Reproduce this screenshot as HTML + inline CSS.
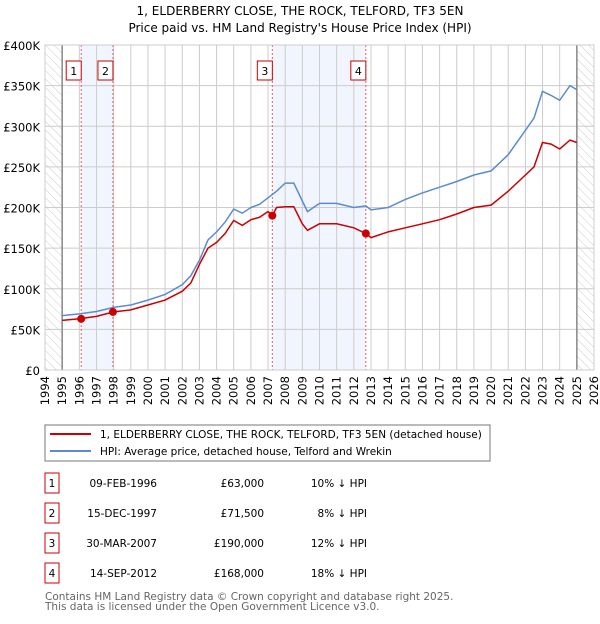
<!DOCTYPE html>
<html><head><meta charset="utf-8"><style>
body{margin:0;background:#fff;font-family:"DejaVu Sans","Liberation Sans",sans-serif;}
svg text{font-family:"DejaVu Sans","Liberation Sans",sans-serif;}
</style></head><body>
<svg id="c" width="600" height="620" xmlns="http://www.w3.org/2000/svg">
<defs><pattern id="hatch" width="6" height="6" patternUnits="userSpaceOnUse" patternTransform="rotate(-45)"><line x1="0" y1="0" x2="0" y2="6" stroke="#ccc" stroke-width="1"/></pattern></defs>
<text x="300" y="15" text-anchor="middle" font-size="12">1, ELDERBERRY CLOSE, THE ROCK, TELFORD, TF3 5EN</text>
<text x="300" y="32" text-anchor="middle" font-size="12">Price paid vs. HM Land Registry's House Price Index (HPI)</text>
<g id="plot"></g>
<rect x="45" y="425" width="445" height="36" fill="#fff" stroke="#777"/>
<line x1="50" y1="434" x2="91" y2="434" stroke="#cc0000" stroke-width="2"/>
<text x="100" y="438" font-size="10.5">1, ELDERBERRY CLOSE, THE ROCK, TELFORD, TF3 5EN (detached house)</text>
<line x1="50" y1="451" x2="91" y2="451" stroke="#5b8bd0" stroke-width="2"/>
<text x="100" y="455" font-size="10.5">HPI: Average price, detached house, Telford and Wrekin</text>
<g id="table" font-size="10.5"></g>
<text x="45" y="600" font-size="10.5" fill="#666">Contains HM Land Registry data © Crown copyright and database right 2025.</text>
<text x="45" y="610" font-size="10.5" fill="#666">This data is licensed under the Open Government Licence v3.0.</text>
</svg>
<script>
const hpiYears=[1995,1996,1997,1998,1999,2000,2001,2002,2002.5,2003,2003.5,2004,2004.5,2005,2005.5,2006,2006.5,2007,2007.5,2008,2008.5,2009,2009.3,2010,2011,2012,2012.7,2013,2014,2015,2016,2017,2018,2019,2020,2021,2022,2022.5,2023,2023.5,2024,2024.6,2025];
const hpiValues=[67,69,72,77,80,86,93,105,116,135,160,170,182,198,193,200,204,212,220,230,230,208,195,205,205,200,202,197,200,210,218,225,232,240,245,265,295,310,343,338,332,350,345];
const redYears=[1995,1996,1997,1998,1999,2000,2001,2002,2002.5,2003,2003.5,2004,2004.5,2005,2005.5,2006,2006.5,2007,2007.25,2007.5,2008,2008.5,2009,2009.3,2010,2011,2012,2012.7,2013,2014,2015,2016,2017,2018,2019,2020,2021,2022,2022.5,2023,2023.5,2024,2024.6,2025];
const redValues=[61,63,66,71.5,74,80,86,97,107,130,150,157,168,184,178,185,188,195,190,200,201,201,180,172,180,180,175,168,163,170,175,180,185,192,200,203,220,240,250,280,278,272,283,280];
const saleDates=[1996.11,1997.96,2007.25,2012.7];
const salePrices=[63,71.5,190,168];
const saleLabels=["1","2","3","4"];
const saleDateText=["09-FEB-1996","15-DEC-1997","30-MAR-2007","14-SEP-2012"];
const salePriceText=["£63,000","£71,500","£190,000","£168,000"];
const salePctText=["10% ↓ HPI","8% ↓ HPI","12% ↓ HPI","18% ↓ HPI"];
const yTicks=[0,50,100,150,200,250,300,350,400];
const yTickLabels=["£0","£50K","£100K","£150K","£200K","£250K","£300K","£350K","£400K"];
const xTicks=[1994,1995,1996,1997,1998,1999,2000,2001,2002,2003,2004,2005,2006,2007,2008,2009,2010,2011,2012,2013,2014,2015,2016,2017,2018,2019,2020,2021,2022,2023,2024,2025,2026];

const X0=45,X1=594,Y0=370,Y1=45;
const x=v=>X0+(v-1994)/32*(X1-X0);
const y=v=>Y0-v/400*(Y0-Y1);
const NS="http://www.w3.org/2000/svg";
const g=document.getElementById('plot');
function mk(tag,attrs,parent){const e=document.createElementNS(NS,tag);for(const k in attrs)e.setAttribute(k,attrs[k]);(parent||g).appendChild(e);return e;}
let e;
e=mk('rect',{x:x(saleDates[0]),y:Y1,width:x(saleDates[1])-x(saleDates[0]),height:Y0-Y1,fill:'#f1f5fd'});


e=mk('rect',{x:x(saleDates[2]),y:Y1,width:x(saleDates[3])-x(saleDates[2]),height:Y0-Y1,fill:'#f1f5fd'});


e=mk('rect',{x:X0,y:Y1,width:x(1995)-X0,height:Y0-Y1,fill:'url(#hatch)'});


e=mk('rect',{x:x(2025),y:Y1,width:X1-x(2025),height:Y0-Y1,fill:'url(#hatch)'});


yTicks.forEach((t,i)=>{
 e=mk('line',{x1:X0,x2:X1,y1:y(t),y2:y(t),stroke:'#ccc'});
 
 
 e=mk('text',{x:40,y:y(t)+5,'text-anchor':'end','font-size':'11.5'});e.textContent=yTickLabels[i];
 
 
});
xTicks.forEach(t=>{
 e=mk('line',{x1:x(t),x2:x(t),y1:Y1,y2:Y0,stroke:'#ccc'});
 
 
 e=mk('text',{x:x(t)+4,y:Y0+6,'text-anchor':'end','font-size':'11.5',transform:`rotate(-90 ${x(t)+4} ${Y0+6})`});e.textContent=t;
 
 
});
[1995,2025].forEach(t=>{e=mk('line',{x1:x(t),x2:x(t),y1:Y1,y2:Y0,stroke:'#888','stroke-width':1.5});
 
 });
saleDates.forEach((d,i)=>{
 e=mk('line',{x1:x(d),x2:x(d),y1:Y1,y2:Y0,stroke:'#e06060','stroke-dasharray':'2,2'});
 
 
});
const pts=(xs,vs)=>xs.map((v,i)=>x(v).toFixed(1)+','+y(vs[i]).toFixed(1)).join(' ');
e=mk('polyline',{points:pts(hpiYears,hpiValues),fill:'none',stroke:'#5b8bd0','stroke-width':1.5});


e=mk('polyline',{points:pts(redYears,redValues),fill:'none',stroke:'#cc0000','stroke-width':1.5});


saleDates.forEach((d,i)=>{
 e=mk('circle',{cx:x(d),cy:y(salePrices[i]),r:4,fill:'#cc0000'});
 
 
 e=mk('rect',{x:x(d)-15,y:61,width:15,height:19,fill:'#fff',stroke:'#cc0000'});
 
 
 e=mk('text',{x:x(d)-7.5,y:75,'text-anchor':'middle','font-size':'11'});e.textContent=saleLabels[i];
 
 
});
e=mk('rect',{x:X0,y:Y1,width:X1-X0,height:Y0-Y1,fill:'none',stroke:'#ccc'});


const tb=document.getElementById('table');
saleDates.forEach((d,i)=>{
 const cy=483+i*30;
 e=mk('rect',{x:45,y:cy-10,width:14,height:20,fill:'#fff',stroke:'#cc0000'},tb);
 
 
 e=mk('text',{x:52,y:cy+4,'text-anchor':'middle'},tb);e.textContent=saleLabels[i];
 
 
 e=mk('text',{x:157,y:cy+4,'text-anchor':'end'},tb);e.textContent=saleDateText[i];
 
 
 e=mk('text',{x:264,y:cy+4,'text-anchor':'end'},tb);e.textContent=salePriceText[i];
 
 
 e=mk('text',{x:367,y:cy+4,'text-anchor':'end'},tb);e.textContent=salePctText[i];
 
 
});
</script>
</body></html>
